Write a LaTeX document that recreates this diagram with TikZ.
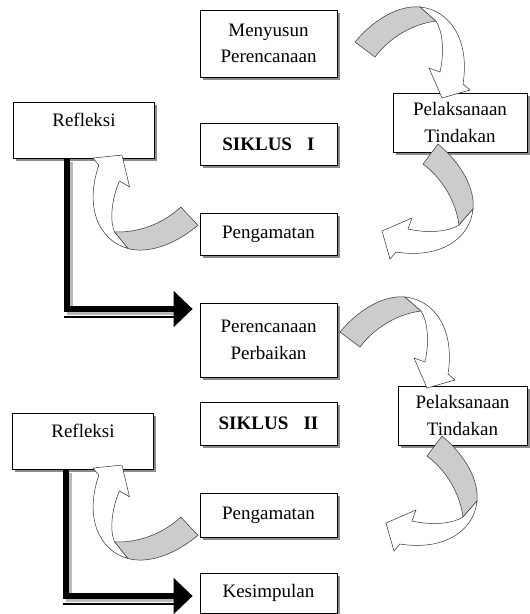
\documentclass[tikz,border=0pt]{standalone}
\usepackage{fontspec}
\setmainfont{Liberation Serif}
\usetikzlibrary{arrows.meta,shadows,calc}

\begin{document}
\begin{tikzpicture}[
        x=1pt, y=-1pt,
        stagebox/.style={draw, line width=0.7pt, fill=white, align=center, inner sep=0pt,
            minimum width=137pt, font=\fontsize{19}{26.5}\selectfont,
            drop shadow={shadow xshift=2.5pt, shadow yshift=-2.5pt, fill=black!45, opacity=1}},
        titlebox/.style={stagebox, font=\fontsize{19}{26.5}\selectfont\bfseries},
        reflbox/.style={stagebox, minimum width=141pt, text height=17pt, text depth=25pt, inner ysep=7pt},
        ribbonback/.style={fill=gray!40, draw=black!80, line width=0.5pt},
        ribbonfront/.style={fill=white, draw=black!80, line width=0.5pt},
        bigarrow/.style={line width=6pt, -{Triangle[length=19pt,width=35pt]},
            preaction={draw=gray!55, line width=6pt, -, shorten >=18pt,
                transform canvas={shift={(3pt,-3pt)}}}},
        edgeline/.style={line width=2pt},
        turnarrow/.pic={
            \filldraw[ribbonback] (-63,-10) .. controls (-43,-34) and (-18,-47) .. (2,-45)
                -- (18,-31) .. controls (-5,-28) and (-28,-15) .. (-43,5) -- cycle;
            \filldraw[ribbonfront] (2,-45) .. controls (32,-42) and (52,-12) .. (45,32)
                -- (52,38) -- (24,46) -- (11,16) -- (22,20)
                .. controls (27,-2) and (24,-22) .. (18,-31) -- cycle;
        }
    ]

    \useasboundingbox (0,0) rectangle (530,614);

    % siklus I
    \node[stagebox, minimum height=67pt] (menyusun) at (268.5,43.5) {Menyusun\\Perencanaan};
    \node[stagebox, minimum width=134pt, minimum height=59pt] (laksana1) at (460,122.5) {Pelaksanaan\\Tindakan};
    \node[titlebox, minimum height=42pt] (siklus1) at (268.5,144) {SIKLUS\hspace{0.8em}I};
    \node[stagebox, minimum height=42pt] (amat1) at (268.5,234) {Pengamatan};
    \node[reflbox] (refleksi1) at (84,130.5) {Refleksi};

    % siklus II
    \node[stagebox, minimum height=74pt] (perbaikan) at (268.5,340) {Perencanaan\\Perbaikan};
    \node[stagebox, minimum width=129pt, minimum height=59pt] (laksana2) at (462.5,415.5) {Pelaksanaan\\Tindakan};
    \node[titlebox, minimum height=43pt] (siklus2) at (268.5,423.5) {SIKLUS\hspace{0.8em}II};
    \node[stagebox, minimum height=44pt] (amat2) at (268.5,515) {Pengamatan};
    \node[stagebox, minimum height=40pt] (kesimpulan) at (268.5,593) {Kesimpulan};
    \node[reflbox] (refleksi2) at (83,441.5) {Refleksi};

    \coordinate (drop1) at ([xshift=54pt]refleksi1.south west);
    \coordinate (aim1) at ([xshift=-7pt,yshift=31pt]perbaikan.west);
    \draw[edgeline] ($(drop1 |- aim1)+(-3,8)$) -- ($(aim1)+(-18,8)$);
    \draw[bigarrow] (drop1) |- (aim1);

    \coordinate (drop2) at ([xshift=54pt]refleksi2.south west);
    \coordinate (aim2) at ([xshift=-7pt,yshift=-3pt]kesimpulan.west);
    \draw[edgeline] ($(drop2 |- aim2)+(-3,8)$) -- ($(aim2)+(-18,8)$);
    \draw[bigarrow] (drop2) |- (aim2);

    \pic at (418,52) {turnarrow};
    \pic[rotate=-90] at (428,207) {turnarrow};
    \pic[rotate=-190] at (137.6,204.5) {turnarrow};

    \pic at (403,342) {turnarrow};
    \pic[rotate=-90] at (432,499) {turnarrow};
    \pic[rotate=-190] at (137.6,514.5) {turnarrow};

\end{tikzpicture}
\end{document}
